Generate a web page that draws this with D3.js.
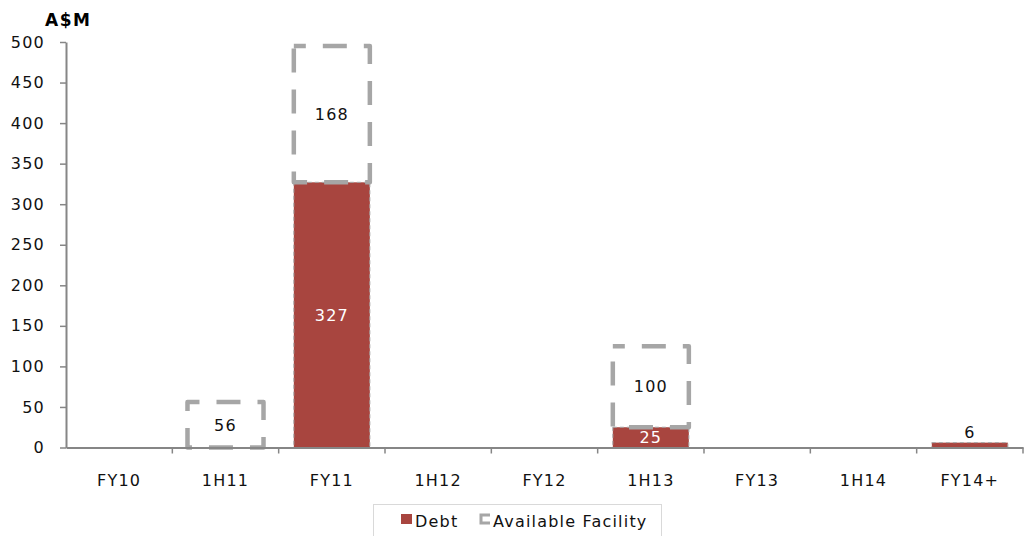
<!DOCTYPE html>
<html>
<head>
<meta charset="utf-8">
<script src="https://cdn.jsdelivr.net/npm/d3@7"></script>
<style>
  html, body { margin: 0; padding: 0; background: #fff; }
  svg { display: block; font-family: "DejaVu Sans", Verdana, sans-serif; }
  .lbl { font-size: 16px; letter-spacing: 1.2px; }
</style>
</head>
<body>
<svg id="chart" width="1026" height="536"></svg>
<script>
// Debt maturity profile (A$M)
const categories = ["FY10", "1H11", "FY11", "1H12", "FY12", "1H13", "FY13", "1H14", "FY14+"];
const debt = [0, 0, 327, 0, 0, 25, 0, 0, 6];
const facility = [0, 56, 168, 0, 0, 100, 0, 0, 0];
const yTicks = [0, 50, 100, 150, 200, 250, 300, 350, 400, 450, 500];
const seriesNames = ["Debt", "Available Facility"];

const RED = "#A8453F";
const GREY = "#A6A6A6";
const AXIS = "#868686";

const svg = d3.select("#chart");
const plotLeft = 66, plotRight = 1023, plotTop = 42, plotBottom = 447.5;

const x = d3.scaleBand().domain(categories).range([plotLeft, plotRight]).paddingInner(0.285).paddingOuter(0.1425);
const xb = d3.scaleBand().domain(categories).range([plotLeft, plotRight]);
const y = d3.scaleLinear().domain([0, 500]).range([plotBottom, plotTop]);

// title
svg.append("text").attr("x", 45).attr("y", 26)
  .attr("font-size", 17).attr("font-weight", "bold").attr("letter-spacing", 1.5)
  .attr("fill", "#000").text("A$M");

// y axis
const yAxis = d3.axisLeft(y).tickValues(yTicks).tickSize(6).tickPadding(15).tickSizeOuter(0);
const gy = svg.append("g").attr("transform", `translate(${plotLeft},0)`).call(yAxis);
gy.attr("font-family", null).attr("font-size", null);
gy.select(".domain").attr("stroke", AXIS).attr("stroke-width", 2);
gy.selectAll(".tick line").attr("stroke", AXIS).attr("stroke-width", 1.5);
gy.selectAll(".tick text").attr("class", "lbl").attr("fill", "#111");

// stacked data
const rows = categories.map((c, i) => ({ cat: c, debt: debt[i], facility: facility[i] }));

// debt bars
svg.append("g").selectAll("rect").data(rows.filter(d => d.debt > 0)).join("rect")
  .attr("x", d => x(d.cat)).attr("width", x.bandwidth())
  .attr("y", d => y(d.debt)).attr("height", d => y(0) - y(d.debt))
  .attr("fill", RED).attr("stroke", GREY).attr("stroke-width", 1)
  .attr("stroke-dasharray", "4,3");

// available facility bars (stacked on debt)
svg.append("g").selectAll("rect").data(rows.filter(d => d.facility > 0)).join("rect")
  .attr("x", d => x(d.cat)).attr("width", x.bandwidth())
  .attr("y", d => y(d.debt + d.facility)).attr("height", d => y(d.debt) - y(d.debt + d.facility))
  .attr("fill", "none").attr("stroke", GREY).attr("stroke-width", 4.5)
  .attr("stroke-dasharray", "24,17").attr("stroke-dashoffset", 12)
  .attr("stroke-linejoin", "round");

// x axis
const xAxis = d3.axisBottom(xb).tickSize(0).tickPadding(27);
const gx = svg.append("g").attr("transform", `translate(0,${plotBottom})`).call(xAxis);
gx.attr("font-family", null).attr("font-size", null);
gx.select(".domain").attr("stroke", AXIS).attr("stroke-width", 2);
gx.selectAll(".tick text").attr("class", "lbl").attr("fill", "#111");
// category boundary ticks
svg.append("g").selectAll("line").data(categories).join("line")
  .attr("x1", d => xb(d) + xb.bandwidth()).attr("x2", d => xb(d) + xb.bandwidth())
  .attr("y1", plotBottom).attr("y2", plotBottom + 6).attr("stroke", AXIS).attr("stroke-width", 1.5);

// value labels
const labels = svg.append("g").attr("text-anchor", "middle");
rows.forEach(d => {
  if (d.debt > 0) {
    const small = d.debt < 15;
    labels.append("text").attr("class", "lbl")
      .attr("x", x(d.cat) + x.bandwidth() / 2)
      .attr("y", small ? y(d.debt) - 5 : y(d.debt / 2))
      .attr("dy", small ? 0 : "0.36em")
      .attr("fill", small ? "#111" : "#fff")
      .text(d.debt);
  }
  if (d.facility > 0) {
    labels.append("text").attr("class", "lbl")
      .attr("x", x(d.cat) + x.bandwidth() / 2)
      .attr("y", y(d.debt + d.facility / 2)).attr("dy", "0.36em")
      .attr("fill", "#111").text(d.facility);
  }
});

// legend
const lg = svg.append("g");
lg.append("rect").attr("x", 373.5).attr("y", 504.5).attr("width", 288).attr("height", 40)
  .attr("fill", "#fff").attr("stroke", "#D9D9D9").attr("stroke-width", 1);
lg.append("rect").attr("x", 401).attr("y", 514).attr("width", 11).attr("height", 10).attr("fill", RED);
lg.append("text").attr("class", "lbl").attr("x", 415).attr("y", 527).attr("fill", "#111").text(seriesNames[0]);
lg.append("path").attr("d", "M490,515 L481,515 L481,523 L490,523")
  .attr("fill", "none").attr("stroke", GREY).attr("stroke-width", 3);
lg.append("text").attr("class", "lbl").attr("x", 493).attr("y", 527).attr("fill", "#111").text(seriesNames[1]);
</script>
</body>
</html>
